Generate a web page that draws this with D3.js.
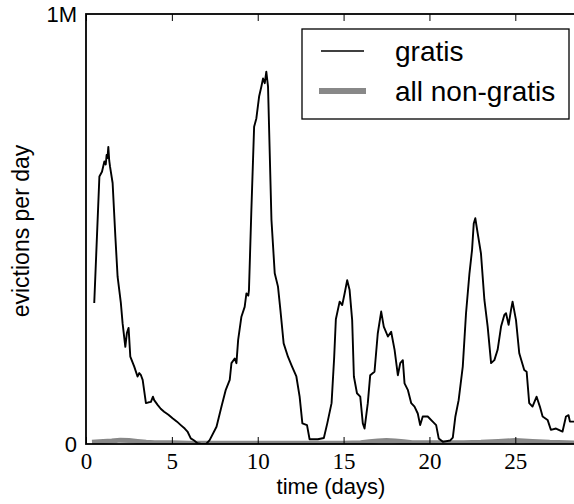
<!DOCTYPE html>
<html>
<head>
<meta charset="utf-8">
<script src="https://cdn.jsdelivr.net/npm/d3@7"></script>
<style>
html,body{margin:0;padding:0;background:#fff;}
svg{display:block;overflow:hidden;}
</style>
</head>
<body>
<svg id="chart" width="574" height="504"></svg>
<script>
// ---- data (evictions per day, in thousands) ----
const gratisDays = [0.48,0.78,0.93,1.07,1.15,1.2,1.25,1.3,1.35,1.4,1.55,1.71,1.84,2.03,2.13,2.29,2.38,2.48,2.58,2.81,3.0,3.1,3.2,3.3,3.49,3.65,3.78,3.9,3.97,4.17,4.35,4.55,4.8,5.04,5.3,5.52,5.75,5.91,6.1,6.3,6.49,6.7,7.0,7.2,7.6,7.89,8.14,8.37,8.47,8.66,8.76,8.86,9.05,9.24,9.34,9.45,9.49,9.63,9.79,9.92,10.08,10.21,10.31,10.41,10.5,10.6,10.8,10.99,11.18,11.32,11.51,11.76,12.0,12.25,12.44,12.6,12.87,13.02,13.5,13.85,14.05,14.3,14.45,14.55,14.77,14.92,15.06,15.21,15.35,15.5,15.6,15.78,15.97,16.12,16.22,16.41,16.55,16.8,16.99,17.19,17.34,17.58,17.77,17.97,18.16,18.3,18.45,18.55,18.74,18.94,19.13,19.32,19.46,19.61,19.9,20.19,20.39,20.54,20.78,21.2,21.36,21.51,21.7,21.94,22.13,22.33,22.48,22.58,22.67,22.81,23.0,23.2,23.39,23.59,23.78,23.97,24.17,24.36,24.46,24.61,24.75,24.84,25.04,25.23,25.52,25.66,25.81,26.0,26.24,26.43,26.59,26.88,27.07,27.37,27.75,27.95,28.1,28.18,28.9];
const gratisValues = [328,622,633,657,650,672,665,691,660,645,607,482,389,328,281,226,258,270,203,180,157,165,160,149,95,97,98,110,102,91,82,75,68,60,52,44,36,29,13,8,2,0,0,9,40,87,126,149,188,199,188,242,296,319,350,345,358,544,738,757,808,831,850,839,866,831,521,397,366,312,234,203,180,157,110,48,44,11,11,14,48,95,200,290,331,323,350,381,358,288,157,118,110,48,36,95,160,168,257,308,273,250,261,219,160,188,195,141,126,95,87,71,44,64,64,52,44,13,5,8,15,64,102,180,304,397,451,513,525,490,443,335,273,188,195,219,273,300,304,277,312,331,288,211,172,168,95,87,110,87,64,56,33,36,29,64,67,52,52];

const nonGratisDays = [0.35,1,1.5,2,2.5,3,3.5,4,5,6,7,8,9,10,11,12,13,14,15,16,16.5,17,17.5,18,18.5,19,20,21,22,23,24,25,26,27,28,29];
const nonGratisValues = [4,6,7,9,8,6,4,3,3,2,2,2,2,2,2,2,2,2,2,3,5,7,8,7,5,3,3,3,3,4,6,8,6,4,3,2];

const xTicks = [0,5,10,15,20,25];
const yTicks = [0,1000];
const yTickLabels = ["0","1M"];
const seriesNames = ["gratis","all non-gratis"];

// ---- layout ----
const svg = d3.select("#chart");
const mLeft = 86, mRight = 584, mTop = 14, mBottom = 444;
const x = d3.scaleLinear().domain([0,29]).range([mLeft,mRight]);
const y = d3.scaleLinear().domain([0,1000]).range([mBottom,mTop]);

svg.append("defs").append("clipPath").attr("id","plotclip")
  .append("rect").attr("x",mLeft).attr("y",mTop).attr("width",mRight-mLeft).attr("height",mBottom-mTop);

const plot = svg.append("g").attr("clip-path","url(#plotclip)");
const line = d3.line().x(d=>x(d[0])).y(d=>y(d[1]));

plot.append("path")
  .datum(d3.zip(nonGratisDays,nonGratisValues))
  .attr("d",line).attr("fill","none").attr("stroke","#888").attr("stroke-width",5)
  .attr("stroke-linejoin","round");

plot.append("path")
  .datum(d3.zip(gratisDays,gratisValues))
  .attr("d",line).attr("fill","none").attr("stroke","#000").attr("stroke-width",1.9)
  .attr("stroke-linejoin","round");

// ---- axes ----
const ax = svg.append("g").attr("transform",`translate(0,${mBottom})`)
  .call(d3.axisBottom(x).tickValues(xTicks).tickSizeInner(-7).tickSizeOuter(0).tickPadding(0));
ax.select(".domain").remove();
ax.selectAll(".tick line").attr("stroke","#000").attr("stroke-width",1);
ax.selectAll(".tick text").attr("font-family","'Liberation Serif','DejaVu Serif',serif")
  .attr("font-size",23).attr("fill","#000").attr("dy",null).attr("y",25);

const axt = svg.append("g").attr("transform",`translate(0,${mTop})`)
  .call(d3.axisTop(x).tickValues(xTicks).tickSizeInner(-7).tickSizeOuter(0).tickFormat(""));
axt.select(".domain").remove();
axt.selectAll(".tick line").attr("stroke","#000").attr("stroke-width",1);

const ay = svg.append("g").attr("transform",`translate(${mLeft},0)`)
  .call(d3.axisLeft(y).tickValues(yTicks).tickSize(0).tickPadding(9)
    .tickFormat((d,i)=>yTickLabels[i]));
ay.select(".domain").remove();
ay.selectAll(".tick text").attr("font-family","'Liberation Sans',Arial,sans-serif")
  .attr("font-size",22).attr("fill","#000").attr("dy","0.36em");

// spines
svg.append("rect").attr("x",mLeft).attr("y",mTop).attr("width",mRight-mLeft).attr("height",mBottom-mTop)
  .attr("fill","none").attr("stroke","#000").attr("stroke-width",1.8);

// axis labels
svg.append("text").attr("x",(mLeft+mRight)/2 - 4).attr("y",494).attr("text-anchor","middle")
  .attr("font-family","'Liberation Sans',Arial,sans-serif").attr("font-size",22).text("time (days)");
svg.append("text").attr("transform",`translate(29,${(mTop+mBottom)/2+2}) rotate(-90)`)
  .attr("text-anchor","middle")
  .attr("font-family","'Liberation Sans',Arial,sans-serif").attr("font-size",23).text("evictions per day");

// legend
const lg = svg.append("g");
lg.append("rect").attr("x",302).attr("y",29).attr("width",267).attr("height",90)
  .attr("fill","#fff").attr("stroke","#000").attr("stroke-width",1.3);
const legStyles = [{c:"#000",w:1.5,x1:321,x2:364},{c:"#888",w:6,x1:319,x2:366}];
const legY = [51,91];
seriesNames.forEach((n,i)=>{
  lg.append("line").attr("x1",legStyles[i].x1).attr("x2",legStyles[i].x2)
    .attr("y1",legY[i]).attr("y2",legY[i]).attr("stroke",legStyles[i].c).attr("stroke-width",legStyles[i].w);
  lg.append("text").attr("x",395).attr("y",legY[i]+10)
    .attr("font-family","'Liberation Sans',Arial,sans-serif").attr("font-size",28).text(n);
});
</script>
</body>
</html>
